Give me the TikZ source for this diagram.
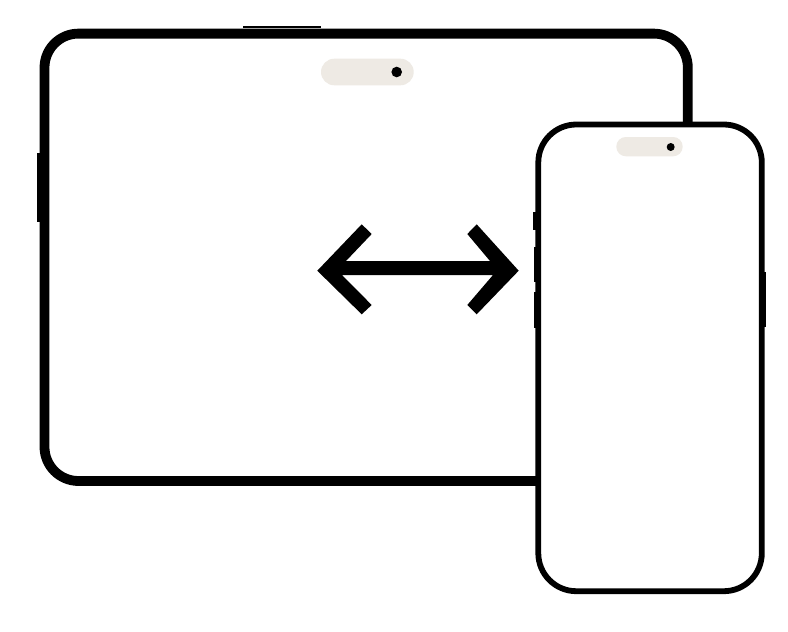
\documentclass[tikz,border=0pt]{standalone}
\definecolor{pillcol}{HTML}{EEEAE4}
\tikzset{
  tabletbody/.style={draw=black,line width=9.8pt,fill=white,rounded corners=34pt},
  phonebody/.style={draw=black,line width=5.8pt,fill=white,rounded corners=38pt},
  sidebutton/.style={fill=black,draw=none},
  pilltablet/.style={fill=pillcol,draw=none,rounded corners=13.3pt},
  pillphone/.style={fill=pillcol,draw=none,rounded corners=9.6pt},
  lens/.style={fill=black,draw=none},
  arrowshape/.style={fill=black,draw=none}
}
\begin{document}
\begin{tikzpicture}[x=1pt,y=-1pt]
\useasboundingbox (0,0) rectangle (788,632);
\fill[white] (0,0) rectangle (788,632);
% tablet buttons
\fill[sidebutton] (242.7,25.7) rectangle (321,28.1);
\fill[sidebutton] (37,153.3) rectangle (41,222.3);
% tablet
\draw[tabletbody] (44.5,33.6) rectangle (687.8,481);
\fill[pilltablet] (321,58.7) rectangle (413.7,85.3);
\fill[lens] (396.7,72) circle (5.3pt);
% double arrow
\fill[arrowshape] (317.3,270.7) -- (361.7,224.3) -- (371.7,234) -- (346,261) -- (490,261)
  -- (467.3,234) -- (476.7,224.3) -- (518.7,270.7) -- (476.7,314.3) -- (467.3,305)
  -- (493,275) -- (342,275) -- (371.7,305) -- (361.7,314.3) -- cycle;
% phone buttons
\fill[sidebutton] (533.3,212.3) rectangle (537,230);
\fill[sidebutton] (534.3,246.7) rectangle (537,282.3);
\fill[sidebutton] (534.3,292.3) rectangle (537,327.7);
\fill[sidebutton] (763,271.7) rectangle (766,327.3);
% phone
\draw[phonebody] (538.3,124.5) rectangle (761.8,591.2);
\fill[pillphone] (616.3,137) rectangle (682.7,156.3);
\fill[lens] (670.7,147) circle (4pt);
\end{tikzpicture}
\end{document}
